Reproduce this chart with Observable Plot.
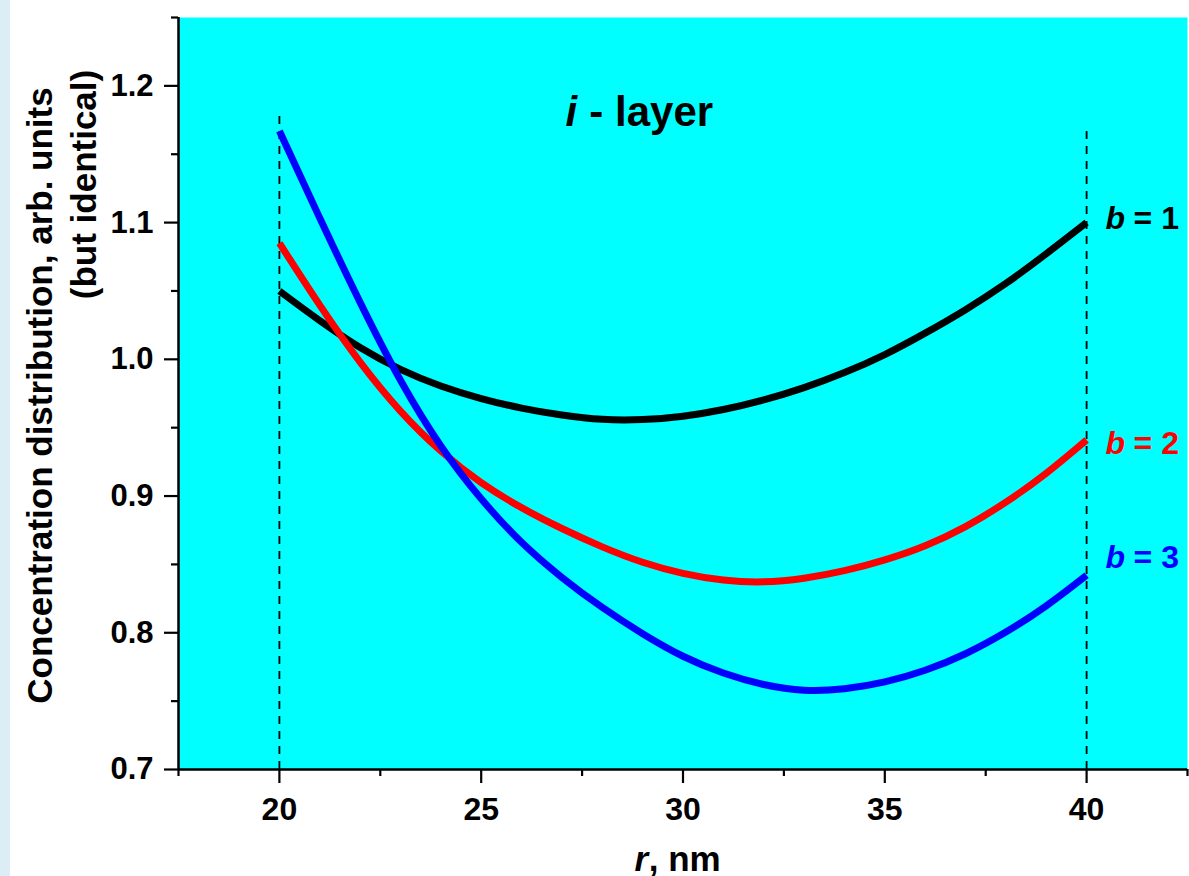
<!DOCTYPE html>
<html>
<head>
<meta charset="utf-8">
<script src="https://cdn.jsdelivr.net/npm/d3@7"></script>
<script src="https://cdn.jsdelivr.net/npm/@observablehq/plot@0.6"></script>
<style>
html, body { margin: 0; padding: 0; }
body {
  width: 1189px; height: 876px; overflow: hidden;
  background: linear-gradient(to right, #dcedf5 0px, #dcedf5 10px, #ffffff 10px);
}
#chart svg { display: block; }
</style>
</head>
<body>
<div id="chart"></div>
<script>
// ---- data ----
const rValues = [20, 21, 22, 23, 24, 25, 26, 27, 28, 29, 30, 31, 32, 33, 34, 35, 36, 37, 38, 39, 40];
const b1Values = [1.050, 1.028, 1.008, 0.992, 0.980, 0.971, 0.964, 0.959, 0.9555, 0.9555, 0.958, 0.963, 0.970, 0.979, 0.990, 1.003, 1.019, 1.036, 1.055, 1.077, 1.100];
const b2Values = [1.085, 1.039, 0.997, 0.961, 0.932, 0.909, 0.891, 0.876, 0.8625, 0.851, 0.843, 0.838, 0.8365, 0.8395, 0.845, 0.853, 0.863, 0.877, 0.895, 0.916, 0.941];
const b3Values = [1.167, 1.103, 1.041, 0.983, 0.935, 0.897, 0.865, 0.840, 0.818, 0.799, 0.782, 0.770, 0.7615, 0.757, 0.7585, 0.7635, 0.772, 0.784, 0.800, 0.819, 0.842];

const seriesNames = ["b = 1", "b = 2", "b = 3"];
const seriesColors = ["#000000", "#ff0000", "#0000ff"];
const seriesLabelValues = ["= 1", "= 2", "= 3"];
const seriesLabelY = [1.103, 0.938, 0.855];

const xMajorTicks = [20, 25, 30, 35, 40];
const xMinorTicks = [17.5, 22.5, 27.5, 32.5, 37.5, 42.5];
const yMajorTicks = [0.7, 0.8, 0.9, 1.0, 1.1, 1.2];
const yMinorTicks = [0.75, 0.85, 0.95, 1.05, 1.15, 1.25];

const boundaryR = [20, 40];
const boundaryTop = [1.18, 1.17];

const titleItalic = "i";
const titleRest = "- layer";
const xLabelItalic = "r";
const xLabelRest = ", nm";
const yLabelLine1 = "Concentration distribution, arb. units";
const yLabelLine2 = "(but identical)";

// ---- build tables ----
const allSeries = [b1Values, b2Values, b3Values];
const curves = allSeries.flatMap((vals, i) =>
  vals.map((v, j) => ({ r: rValues[j], v, series: seriesNames[i] }))
);
const boundaries = boundaryR.map((r, i) => ({ r, top: boundaryTop[i] }));
const labels = seriesNames.map((s, i) => ({
  r: rValues[rValues.length - 1], v: seriesLabelY[i], series: s, rest: seriesLabelValues[i]
}));

const FONT = "'Liberation Sans', Arial, Helvetica, sans-serif";

const chart = Plot.plot({
  width: 1189,
  height: 876,
  marginLeft: 178,
  marginRight: 2,
  marginTop: 17,
  marginBottom: 107,
  style: { fontFamily: FONT, fontWeight: "bold", background: "transparent", overflow: "visible" },
  x: { domain: [17.5, 42.5], axis: null },
  y: { domain: [0.7, 1.25], axis: null },
  color: { domain: seriesNames, range: seriesColors },
  marks: [
    Plot.frame({ fill: "#00ffff", stroke: null }),
    Plot.ruleX(boundaries, { x: "r", y1: 0.7, y2: "top", stroke: "#000", strokeWidth: 1.8, strokeDasharray: "8,7" }),
    Plot.line(curves, { x: "r", y: "v", z: "series", stroke: "series", strokeWidth: 7, curve: "basis", strokeLinecap: "butt", strokeLinejoin: "round" }),
    // axis lines
    Plot.ruleX([17.5], { stroke: "#000", strokeWidth: 2.5 }),
    Plot.ruleY([0.7], { stroke: "#000", strokeWidth: 2.5 }),
    // x ticks
    Plot.axisX(xMajorTicks, { anchor: "bottom", tickSize: 14, tickPadding: 14, strokeWidth: 2.2, fontSize: 32, fontWeight: "bold", tickFormat: d => String(d), label: null }),
    Plot.axisX(xMinorTicks, { anchor: "bottom", tickSize: 7, strokeWidth: 2.2, tickFormat: () => "", label: null }),
    // y ticks
    Plot.axisY(yMajorTicks, { anchor: "left", tickSize: 14, tickPadding: 11, strokeWidth: 2.2, fontSize: 31, fontWeight: "bold", tickFormat: d3.format(".1f"), label: null }),
    Plot.axisY(yMinorTicks, { anchor: "left", tickSize: 7, strokeWidth: 2.2, tickFormat: () => "", label: null }),
    // series labels
    Plot.text(labels, { x: "r", y: "v", text: () => "b", fill: "series", fontSize: 32, fontWeight: "bold", fontStyle: "italic", textAnchor: "start", dx: 19 }),
    Plot.text(labels, { x: "r", y: "v", text: "rest", fill: "series", fontSize: 32, fontWeight: "bold", textAnchor: "start", dx: 47 }),
    // title
    Plot.text([titleItalic], { x: 27.09, y: 1.1708, text: d => d, fontSize: 42, fontWeight: "bold", fontStyle: "italic", textAnchor: "start", lineAnchor: "bottom", fill: "#000" }),
    Plot.text([titleRest], { x: 27.68, y: 1.1708, text: d => d, fontSize: 42, fontWeight: "bold", textAnchor: "start", lineAnchor: "bottom", fill: "#000" }),
    // x label
    Plot.text([xLabelItalic], { x: 28.80, frameAnchor: "bottom", dy: 101, text: d => d, fontSize: 35, fontWeight: "bold", fontStyle: "italic", textAnchor: "start", lineAnchor: "bottom", fill: "#000" }),
    Plot.text([xLabelRest], { x: 29.15, frameAnchor: "bottom", dy: 101, text: d => d, fontSize: 35, fontWeight: "bold", textAnchor: "start", lineAnchor: "bottom", fill: "#000" }),
    // y label (two lines)
    Plot.text([yLabelLine1], { frameAnchor: "left", dx: -127, dy: 2, rotate: -90, text: d => d, fontSize: 35, fontWeight: "bold", textAnchor: "middle", lineAnchor: "bottom", fill: "#000" }),
    Plot.text([yLabelLine2], { frameAnchor: "left", dx: -83, dy: -209, rotate: -90, text: d => d, fontSize: 35, fontWeight: "bold", textAnchor: "middle", lineAnchor: "bottom", fill: "#000" })
  ]
});

document.getElementById("chart").appendChild(chart);
</script>
</body>
</html>
